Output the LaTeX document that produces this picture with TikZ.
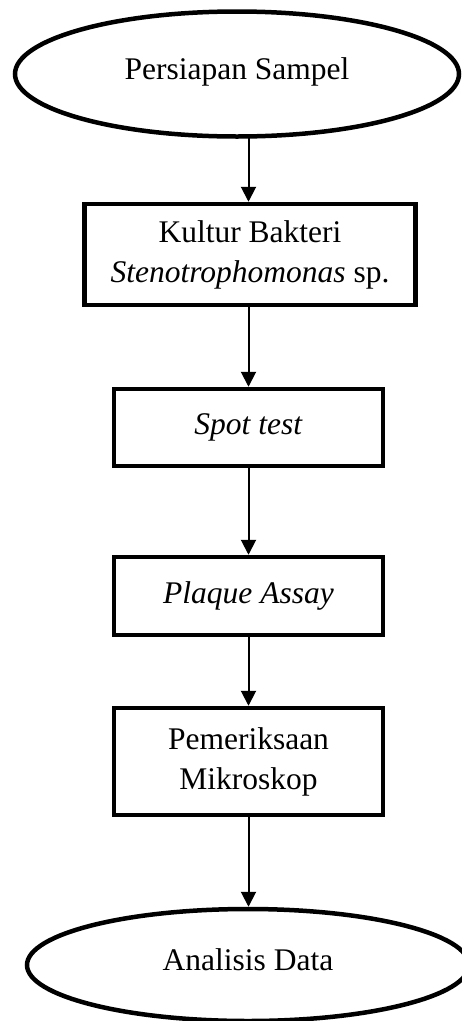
\documentclass[tikz,border=0pt]{standalone}
\usepackage{fontspec}
\setmainfont{Liberation Serif}
\usepackage{tikz}
\usetikzlibrary{shapes.geometric,arrows.meta,calc}

\begin{document}
\begin{tikzpicture}[x=1pt,y=-1pt,
  oval/.style={ellipse,draw,line width=4.5pt,inner sep=0pt,font=\fontsize{31.5}{38}\selectfont},
  kotak/.style={rectangle,draw,line width=4.5pt,inner sep=0pt,align=center,font=\fontsize{31.5}{40}\selectfont},
  panah/.style={-{Triangle[length=15pt,width=15pt]},line width=2pt}]
  \useasboundingbox (0,0) rectangle (461,1021);
  \node[oval,minimum width=444pt,minimum height=125pt] (sampel) at (237,74) {\raisebox{11pt}{Persiapan Sampel}};
 \node[kotak,minimum width=331pt,minimum height=101pt] (kultur) at (250,254.5) {Kultur Bakteri\\\textit{Stenotrophomonas} sp.};
 \node[kotak,minimum width=269pt,minimum height=77pt] (spot) at (248.5,427.5) {\textit{Spot test}};
  \node[kotak,minimum width=269pt,minimum height=78pt] (plaque) at (248.5,596) {\textit{Plaque Assay}};
 \node[kotak,minimum width=269pt,minimum height=107pt] (mikro) at (248.5,761.5) {Pemeriksaan\\Mikroskop};
   \node[oval,minimum width=442pt,minimum height=112pt] (analisis) at (248,965) {\raisebox{10pt}{Analisis Data}};
   \draw[panah] ($(spot.north |- sampel.south)+(0,-2)$) -- (spot.north |- kultur.north);
   \draw[panah] (spot.north |- kultur.south) -- (spot.north);
   \draw[panah] (spot.south) -- (plaque.north);
   \draw[panah] (plaque.south) -- (mikro.north);
    \draw[panah] (mikro.south) -- (mikro.south |- analisis.north);
\end{tikzpicture}
\end{document}
